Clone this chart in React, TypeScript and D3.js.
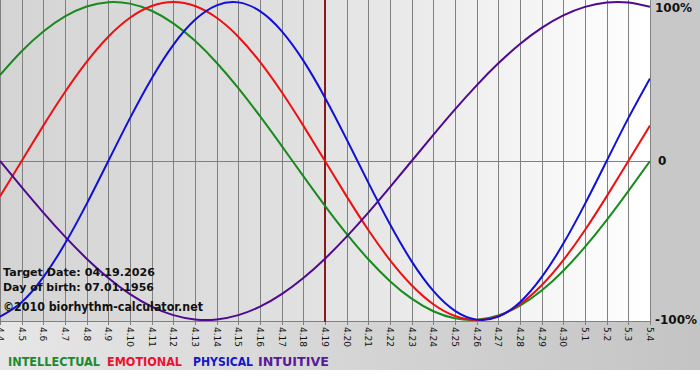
import React from "react";
import * as d3 from "d3";

const dayLabels = ["4.4","4.5","4.6","4.7","4.8","4.9","4.10","4.11","4.12","4.13","4.14","4.15","4.16","4.17","4.18","4.19","4.20","4.21","4.22","4.23","4.24","4.25","4.26","4.27","4.28","4.29","4.30","5.1","5.2","5.3","5.4"];
const intellectual = [0.5406,0.6901,0.8146,0.9096,0.9718,0.9989,0.9898,0.945,0.866,0.7557,0.6182,0.4582,0.2817,0.0951,-0.0951,-0.2817,-0.4582,-0.6182,-0.7557,-0.866,-0.945,-0.9898,-0.9989,-0.9718,-0.9096,-0.8146,-0.6901,-0.5406,-0.3717,-0.1893,0];
const emotional = [-0.2225,0,0.2225,0.4339,0.6235,0.7818,0.901,0.9749,1,0.9749,0.901,0.7818,0.6235,0.4339,0.2225,0,-0.2225,-0.4339,-0.6235,-0.7818,-0.901,-0.9749,-1,-0.9749,-0.901,-0.7818,-0.6235,-0.4339,-0.2225,0,0.2225];
const physical = [-0.9791,-0.8879,-0.7308,-0.5196,-0.2698,0,0.2698,0.5196,0.7308,0.8879,0.9791,0.9977,0.9423,0.817,0.6311,0.3984,0.1362,-0.1362,-0.3984,-0.6311,-0.817,-0.9423,-0.9977,-0.9791,-0.8879,-0.7308,-0.5196,-0.2698,0,0.2698,0.5196];
const intuitive = [0,-0.1646,-0.3247,-0.4759,-0.6142,-0.7357,-0.8372,-0.9158,-0.9694,-0.9966,-0.9966,-0.9694,-0.9158,-0.8372,-0.7357,-0.6142,-0.4759,-0.3247,-0.1646,0,0.1646,0.3247,0.4759,0.6142,0.7357,0.8372,0.9158,0.9694,0.9966,0.9966,0.9694];
const targetIndex = 15;
const yTicks = [1, 0, -1];
const yTickLabels = ["100%", "0", "-100%"];

const seriesList = [
  { name: "INTELLECTUAL", values: intellectual, color: "#198a1e", legend: "#1a8a30" },
  { name: "EMOTIONAL", values: emotional, color: "#ee1010", legend: "#ee1030" },
  { name: "PHYSICAL", values: physical, color: "#1010d8", legend: "#1515cc" },
  { name: "INTUITIVE", values: intuitive, color: "#4f0a8f", legend: "#5a1a9a" },
];
const legendX = [8, 107, 193, 258];
const legendW = [92, 75, 60, 71];

export default function App() {
  const W = 700, H = 380;
  const plotR = 650, plotB = 322;
  const x = d3.scaleLinear().domain([0, dayLabels.length - 1]).range([0, plotR]);
  const y = d3.scaleLinear().domain([-1, 1]).range([320, 2]);
  const line = (vals: number[]) =>
    d3.line<number>().x((_, i) => x(i)).y((v) => y(v)).curve(d3.curveNatural)(vals) || "";
  const font = "Tahoma, 'DejaVu Sans', sans-serif";
  const labelY = (t: number) => Math.min(Math.max(y(t), 8), 321);
  return (
    <svg width={W} height={H} style={{ position: "absolute", left: 0, top: 0, display: "block" }}>
      <defs>
        <linearGradient id="bg" x1="0" y1="0" x2="1" y2="0">
          <stop offset="0" stopColor="#e6e6e6" />
          <stop offset="1" stopColor="#c4c4c4" />
        </linearGradient>
        <linearGradient id="plotbg" x1="0" y1="0" x2="1" y2="0">
          <stop offset="0" stopColor="#d4d4d4" />
          <stop offset="0.45" stopColor="#e0e0e0" />
          <stop offset="1" stopColor="#ffffff" />
        </linearGradient>
        <clipPath id="clip">
          <rect x={0} y={0} width={plotR} height={plotB} />
        </clipPath>
      </defs>
      <rect x={0} y={0} width={W} height={H} fill="#ffffff" />
      <rect x={0} y={0} width={W} height={370} fill="url(#bg)" />
      <rect x={650} y={0} width={50} height={322} fill="#c8c8c8" />
      <rect x={0} y={0} width={plotR} height={plotB} fill="url(#plotbg)" />
      {dayLabels.map((_, i) => (
        <line key={"g" + i} x1={Math.round(x(i)) + 0.5} x2={Math.round(x(i)) + 0.5} y1={0} y2={plotB + 3} stroke="#808080" strokeWidth={1} />
      ))}
      <line x1={0} x2={plotR} y1={Math.round(y(0)) + 0.5} y2={Math.round(y(0)) + 0.5} stroke="#808080" />
      <line x1={0} x2={plotR} y1={plotB - 0.5} y2={plotB - 0.5} stroke="#808080" />
      <line x1={x(targetIndex)} x2={x(targetIndex)} y1={0} y2={plotB} stroke="#8a1a1a" strokeWidth={2} />
      <g clipPath="url(#clip)">
        {seriesList.map((s) => (
          <path key={s.name} d={line(s.values)} fill="none" stroke={s.color} strokeWidth={2} />
        ))}
      </g>
      <g fontFamily={font} fontWeight="bold" fontSize={11} fill="#111">
        <text x={3} y={276} textLength={152} lengthAdjust="spacingAndGlyphs">Target Date: 04.19.2026</text>
        <text x={3} y={291} textLength={151} lengthAdjust="spacingAndGlyphs">Day of birth: 07.01.1956</text>
        <text x={3} y={311} fontSize={12} textLength={200} lengthAdjust="spacingAndGlyphs">©2010 biorhythm-calculator.net</text>
      </g>
      {yTicks.map((t, i) => (
        <text key={"y" + i} x={i === 1 ? 658 : 655} y={labelY(t)} dy="0.35em" fontFamily={font} fontWeight="bold" fontSize={12} fill="#111">
          {yTickLabels[i]}
        </text>
      ))}
      {dayLabels.map((lab, i) => (
        <text key={"t" + i} transform={`translate(${Math.round(x(i)) + 0.5},${plotB + 5}) rotate(90)`} dy="0.35em" fontFamily={font} fontSize={9} fill="#111">
          {lab}
        </text>
      ))}
      {seriesList.map((s, i) => (
        <text key={"l" + i} x={legendX[i]} y={366} fontFamily={font} fontWeight="bold" fontSize={12} fill={s.legend} textLength={legendW[i]} lengthAdjust="spacingAndGlyphs">
          {s.name}
        </text>
      ))}
    </svg>
  );
}
